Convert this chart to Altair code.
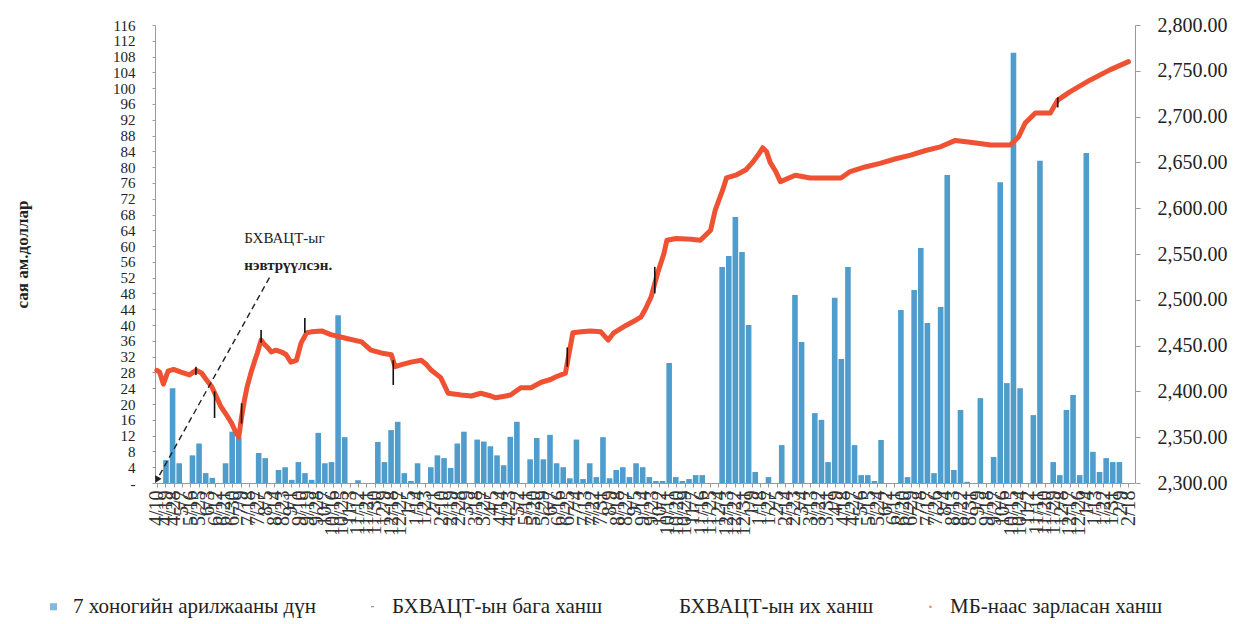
import altair as alt
import pandas as pd

# ---- data -------------------------------------------------------------
# Weekly interbank FX trading volume, million USD (one value per week)
WEEKLY_VOLUME = [
    5.8, 24, 5, 0, 7, 10, 2.5, 1.3, 0, 5,
    13, 11.4, 0, 0, 7.6, 6.3, 0, 3.3, 4, 0.8,
    5.3, 2.5, 0.8, 12.7, 5, 5.3, 42.5, 11.6, 0, 0.7,
    0, 0, 10.4, 5.3, 13.4, 15.5, 2.5, 0.5, 5, 0,
    4, 7, 6.3, 3.8, 10, 13, 0, 11, 10.5, 9.3,
    7, 4.5, 11.7, 15.5, 0, 6, 11.4, 6, 12.2,
    5, 4, 1.2, 11, 1, 5, 1.5, 11.6, 1.2, 3.3,
    4, 1.5, 5, 4, 1.5, 0.5, 0.5, 30.4, 1.5, 0.5,
    1, 2, 2, 0, 0, 54.7, 57.5, 67.4, 58.5, 40,
    2.8, 0, 1.5, 0, 9.6, 0, 47.6, 35.7, 0, 17.7,
    16, 5.3, 46.9, 31.4, 54.7, 9.6, 2, 2, 0.5, 10.9,
    0, 0, 43.8, 1.5, 48.9, 59.5, 40.5, 2.5, 44.6, 78,
    3.3, 18.5, 0.3, 0, 21.5, 0, 6.6, 76.2, 25.3, 109, 24,
    0, 17.2, 81.6, 0, 5.3, 2, 18.5, 22.3, 2, 83.6,
    7.9, 2.8, 6.3, 5.3, 5.3,
]

# Official Mongol Bank rate, MNT per USD
RATE_DATES = [
    "2017-04-10", "2017-04-13", "2017-04-17", "2017-04-22", "2017-04-28",
    "2017-05-06", "2017-05-15", "2017-05-22", "2017-05-28", "2017-06-02",
    "2017-06-08", "2017-06-13", "2017-06-18", "2017-06-24", "2017-06-29",
    "2017-07-03", "2017-07-07", "2017-07-10", "2017-07-13", "2017-07-16",
    "2017-07-20", "2017-07-24", "2017-07-27", "2017-07-31", "2017-08-03",
    "2017-08-07", "2017-08-11", "2017-08-16", "2017-08-22", "2017-08-27",
    "2017-09-01", "2017-09-07", "2017-09-12", "2017-09-18", "2017-09-23",
    "2017-10-04", "2017-10-14", "2017-10-30", "2017-11-16", "2017-11-26",
    "2017-12-07", "2017-12-18", "2017-12-22", "2017-12-28", "2018-01-08",
    "2018-01-19", "2018-01-24", "2018-01-30", "2018-02-09", "2018-02-17",
    "2018-02-25", "2018-03-03", "2018-03-14", "2018-03-24", "2018-04-04",
    "2018-04-09", "2018-04-20", "2018-04-25", "2018-05-06", "2018-05-17",
    "2018-05-28", "2018-06-07", "2018-06-13", "2018-06-23", "2018-06-27",
    "2018-07-01", "2018-07-10", "2018-07-20", "2018-07-31", "2018-08-08",
    "2018-08-14", "2018-08-27", "2018-09-07", "2018-09-12", "2018-09-17",
    "2018-09-23", "2018-09-30", "2018-10-07", "2018-10-10", "2018-10-20",
    "2018-11-05", "2018-11-15", "2018-11-26", "2018-12-01", "2018-12-05",
    "2018-12-09", "2018-12-13", "2018-12-23", "2019-01-03", "2019-01-10",
    "2019-01-16", "2019-01-21", "2019-01-25", "2019-01-29", "2019-02-04",
    "2019-02-09", "2019-02-25", "2019-03-13", "2019-04-15", "2019-04-25",
    "2019-05-11", "2019-05-27", "2019-06-13", "2019-06-29", "2019-07-15",
    "2019-07-31", "2019-08-16", "2019-09-01", "2019-09-23", "2019-10-14",
    "2019-10-23", "2019-10-30", "2019-11-10", "2019-11-26", "2019-12-04",
    "2019-12-17", "2020-01-08", "2020-01-29", "2020-02-18",
]
RATE_VALUES = [
    2423, 2421, 2408, 2422, 2424, 2421, 2418, 2423, 2420, 2413,
    2405, 2394, 2383, 2374, 2366, 2357, 2350, 2372, 2390, 2405,
    2420, 2433, 2442, 2456, 2452, 2448, 2443, 2445, 2443, 2440,
    2432, 2434, 2453, 2464, 2465, 2466, 2462, 2458, 2454, 2445,
    2442, 2440, 2427, 2429, 2432, 2434, 2430, 2423, 2415, 2398,
    2397, 2396, 2395, 2398, 2395, 2393, 2395, 2396, 2404, 2404,
    2410, 2413, 2416, 2420, 2442, 2464, 2465, 2466, 2465, 2456,
    2464, 2472, 2478, 2481, 2490, 2503, 2529, 2551, 2565, 2567,
    2566, 2565, 2576, 2598, 2609, 2620, 2633, 2636, 2642, 2650,
    2658, 2666, 2662, 2650, 2640, 2629, 2636, 2633, 2633, 2640,
    2645, 2649, 2654, 2658, 2663, 2667, 2674, 2672, 2669, 2669,
    2678, 2693, 2704, 2704, 2718, 2727, 2740, 2751, 2760,
]

# Platform low / high quotes on days where they stand apart from the official rate
RANGE_DATES = ["2017-05-22", "2017-06-11", "2017-07-10", "2017-07-31", "2017-09-16",
               "2017-12-20", "2018-06-25", "2018-09-27", "2019-12-04"]
RANGE_LOW = [2418, 2371, 2365, 2453, 2464, 2407, 2427, 2507, 2710]
RANGE_HIGH = [2427, 2400, 2387, 2467, 2480, 2434, 2448, 2536, 2721]

SERIES = ["7 хоногийн арилжааны дүн", "БХВАЦТ-ын бага ханш",
          "БХВАЦТ-ын их ханш", "МБ-наас зарласан ханш"]

LEFT_TICKS = list(range(0, 117, 4))
RIGHT_TICKS = list(range(2300, 2801, 50))
TICK_DATES = pd.date_range("2017-04-10", "2020-02-18", freq="9D")
TICK_MS = [int(d.timestamp() * 1000) for d in TICK_DATES]

# ---- styling ----------------------------------------------------------
BLUE = "#4F9DCC"
RED = "#EE5232"
FONT = "Liberation Serif, Times New Roman, serif"
AXIS_GREY = "#9a9a9a"

x_time = alt.Scale(domain=[alt.DateTime(year=2017, month=4, date=8, utc=True),
                           alt.DateTime(year=2020, month=2, date=25, utc=True)],
                   nice=False)
y_left = alt.Scale(domain=[0, 116], nice=False, zero=True)
y_right = alt.Scale(domain=[2300, 2800], nice=False, zero=False)
x_week = alt.Scale(domain=[-0.9, 145.6], nice=False, zero=False)

bars_df = pd.DataFrame({"wk": list(range(len(WEEKLY_VOLUME))), "vol": WEEKLY_VOLUME})
rate_df = pd.DataFrame({"date": RATE_DATES, "rate": RATE_VALUES})
range_df = pd.DataFrame({"date": RANGE_DATES, "low": RANGE_LOW, "high": RANGE_HIGH})
legend_df = pd.DataFrame({"series": SERIES})

bars = alt.Chart(bars_df).mark_bar(color=BLUE, width=5.6).encode(
    x=alt.X("wk:Q", scale=x_week, axis=None),
    y=alt.Y("vol:Q", scale=y_left,
            axis=alt.Axis(orient="left", values=LEFT_TICKS,
                          labelExpr="datum.value == 0 ? '-' : datum.label",
                          labelOverlap=False, labelBound=False, labelFlush=False,
                          labelFont=FONT, labelFontSize=15, labelColor="#222",
                          labelPadding=17, tickSize=3, tickColor=AXIS_GREY,
                          domainColor=AXIS_GREY, grid=False,
                          title="сая ам.доллар", titleFont=FONT, titleFontSize=17,
                          titleFontWeight="bold", titleColor="#222",
                          titleX=-133, titleY=229, titleAngle=270,
                          titleAlign="center", titleBaseline="middle")),
)

rate_line = alt.Chart(rate_df).mark_line(
    color=RED, strokeWidth=5, strokeCap="round", strokeJoin="round"
).encode(
    x=alt.X("date:T", scale=x_time,
            axis=alt.Axis(values=TICK_MS,
                          labelExpr="utcFormat(datum.value, '%-m/%-d')",
                          labelAngle=270, labelOverlap=False, labelFlush=False,
                          labelBound=False, labelFont=FONT, labelFontSize=20,
                          labelColor="#333", labelPadding=3, tickSize=4,
                          tickColor=AXIS_GREY, domainColor=AXIS_GREY,
                          grid=False, title=None)),
    y=alt.Y("rate:Q", scale=y_right,
            axis=alt.Axis(orient="right", values=RIGHT_TICKS, format=",.2f",
                          labelFont=FONT, labelFontSize=20, labelColor="#222",
                          labelPadding=17, tickSize=5, tickColor=AXIS_GREY,
                          domainColor=AXIS_GREY, grid=False, title=None)),
)

range_rules = alt.Chart(range_df).mark_rule(color="#111", strokeWidth=1.6).encode(
    x=alt.X("date:T", scale=x_time, axis=None),
    y=alt.Y("low:Q", scale=y_right, axis=None),
    y2="high:Q",
)

# annotation: arrow pointing at the platform launch week
arrow_df = pd.DataFrame({"d0": ["2017-08-09"], "v0": [52.0],
                         "d1": ["2017-04-10"], "v1": [0.8]})
arrow_line = alt.Chart(arrow_df).mark_rule(
    color="#222", strokeWidth=1.4, strokeDash=[6, 4]
).encode(
    x=alt.X("d0:T", scale=x_time, axis=None), x2="d1:T",
    y=alt.Y("v0:Q", scale=y_left, axis=None), y2="v1:Q",
)
arrow_head = alt.Chart(arrow_df).mark_point(
    shape="triangle-up", filled=True, color="#222", size=55, angle=209, opacity=1
).encode(
    x=alt.X("d1:T", scale=x_time, axis=None),
    y=alt.Y("v1:Q", scale=y_left, axis=None),
)
note1_df = pd.DataFrame({"d": ["2017-07-13"], "v": [62.1], "txt": ["БХВАЦТ-ыг"]})
note2_df = pd.DataFrame({"d": ["2017-07-13"], "v": [55.2], "txt": ["нэвтрүүлсэн."]})
note1 = alt.Chart(note1_df).mark_text(
    align="left", baseline="middle", font=FONT, fontSize=15, color="#222"
).encode(
    x=alt.X("d:T", scale=x_time, axis=None),
    y=alt.Y("v:Q", scale=y_left, axis=None),
    text="txt:N",
)
note2 = alt.Chart(note2_df).mark_text(
    align="left", baseline="middle", font=FONT, fontSize=15, color="#222",
    fontWeight="bold"
).encode(
    x=alt.X("d:T", scale=x_time, axis=None),
    y=alt.Y("v:Q", scale=y_left, axis=None),
    text="txt:N",
)

# legend only: points parked outside the canvas carry the four series entries
dash_path = "M-0.4,-0.12H0.4V0.12H-0.4Z"
dot_path = "M0,-0.38A0.38,0.38,0,1,1,0,0.38A0.38,0.38,0,1,1,0,-0.38Z"
legend_cfg = alt.Legend(orient="none", legendX=-112, legendY=571,
                        direction="horizontal", columns=4, columnPadding=46,
                        title=None, labelFont=FONT, labelFontSize=21,
                        labelColor="#222", labelLimit=0, symbolSize=50,
                        symbolStrokeWidth=0, labelOffset=9)
legend_layer = alt.Chart(legend_df).mark_point(filled=True).encode(
    x=alt.value(-600), y=alt.value(-600),
    color=alt.Color("series:N", sort=SERIES,
                    scale=alt.Scale(domain=SERIES,
                                    range=[BLUE, "#111", "#ffffff", RED]),
                    legend=legend_cfg),
    shape=alt.Shape("series:N", sort=SERIES,
                    scale=alt.Scale(domain=SERIES,
                                    range=["square", dash_path, "square", dot_path]),
                    legend=legend_cfg),
)

chart = alt.layer(
    bars, rate_line, range_rules, arrow_line, arrow_head, note1, note2, legend_layer
).resolve_scale(
    x="independent", y="independent"
).properties(
    width=980, height=458,
    autosize=alt.AutoSizeParams(type="none"),
    padding={"left": 155, "top": 25, "right": 100, "bottom": 141},
).configure_view(stroke=None)

chart.save("out.html", embed_options={"renderer": "svg", "actions": False})
